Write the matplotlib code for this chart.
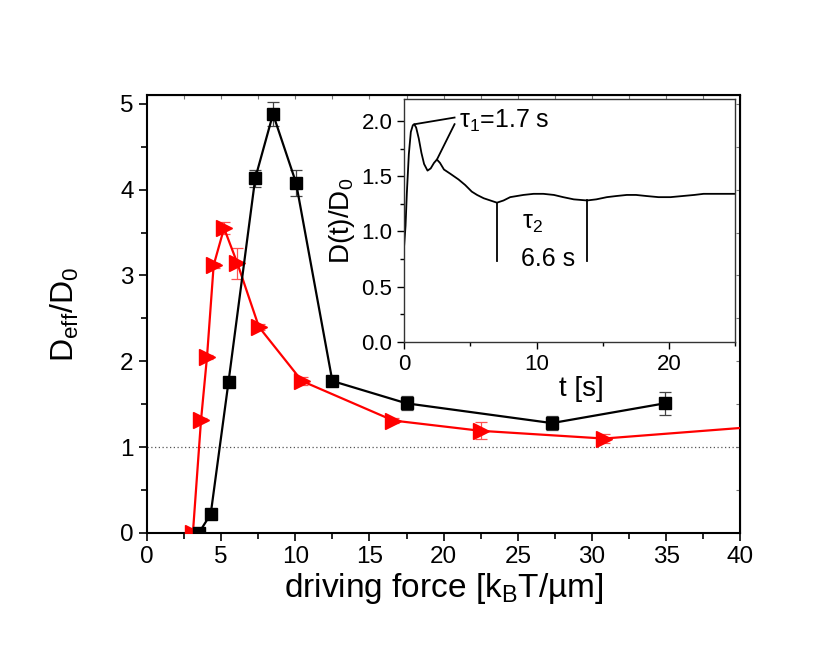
import numpy as np
import matplotlib
matplotlib.use('Agg')
import matplotlib.pyplot as plt
from matplotlib.ticker import MultipleLocator

plt.rcParams['font.family'] = ['Liberation Sans', 'DejaVu Sans']
plt.rcParams['mathtext.default'] = 'regular'

# black squares
black_x = [3.5, 4.3, 5.5, 7.3, 8.5, 10.05, 12.5, 17.5, 27.3, 34.9]
black_y = [0.0, 0.22, 1.76, 4.13, 4.88, 4.08, 1.77, 1.51, 1.28, 1.51]
black_err = [0.0, 0.02, 0.03, 0.1, 0.14, 0.15, 0.03, 0.08, 0.08, 0.13]

# red triangles
red_x = [3.1, 3.65, 4.05, 4.5, 5.2, 6.1, 7.55, 10.45, 16.6, 22.5, 30.8, 45.0]
red_y = [0.0, 1.32, 2.05, 3.12, 3.55, 3.14, 2.4, 1.77, 1.31, 1.19, 1.10, 1.29]
red_err = [0.0, 0.02, 0.02, 0.03, 0.07, 0.18, 0.03, 0.05, 0.03, 0.1, 0.05, 0.0]

# inset: D(t)/D0
t_vals = [0.0, 0.1, 0.2, 0.35, 0.5, 0.65, 0.75, 0.9, 1.1, 1.3, 1.5, 1.76, 2.0,
          2.25, 2.47, 2.7, 3.0, 3.5, 4.1, 4.6, 5.1, 5.5, 6.0, 6.5, 7.0, 7.5,
          8.0, 9.0, 9.77, 10.5, 11.3, 12.0, 12.8, 13.8, 14.5, 15.3, 16.0, 16.8,
          17.5, 18.3, 19.2, 20.1, 21.0, 21.9, 22.6, 23.4, 24.2, 25.0]
d_vals = [0.88, 1.05, 1.35, 1.7, 1.9, 1.96, 1.97, 1.94, 1.84, 1.71, 1.61, 1.55, 1.57,
          1.62, 1.65, 1.62, 1.56, 1.52, 1.47, 1.42, 1.36, 1.33, 1.3, 1.28, 1.26, 1.28,
          1.31, 1.33, 1.34, 1.34, 1.33, 1.31, 1.29, 1.28, 1.29, 1.31, 1.32, 1.33,
          1.33, 1.32, 1.31, 1.31, 1.32, 1.33, 1.34, 1.34, 1.34, 1.34]

fig = plt.figure(figsize=(8.3, 6.7), dpi=100)
ax = fig.add_axes([0.177, 0.2045, 0.715, 0.6535])

ax.axhline(1.0, color='#555555', lw=0.9, ls=(0, (1, 2)), zorder=1)

ax.errorbar(red_x, red_y, yerr=red_err, color='red', lw=1.6, marker='>', ms=11,
            mec='red', mfc='red', ecolor='#ff5050', elinewidth=0.9, capsize=4,
            capthick=0.9, zorder=3)
ax.errorbar(black_x, black_y, yerr=black_err, color='black', lw=1.6, marker='s', ms=9,
            mec='black', mfc='black', ecolor='#444444', elinewidth=0.9, capsize=4,
            capthick=0.9, zorder=4)

ax.set_xlim(0, 40)
ax.set_ylim(0, 5.1)
ax.xaxis.set_major_locator(MultipleLocator(5))
ax.xaxis.set_minor_locator(MultipleLocator(2.5))
ax.yaxis.set_major_locator(MultipleLocator(1))
ax.yaxis.set_minor_locator(MultipleLocator(0.5))
ax.tick_params(which='both', direction='out', width=1.2, labelsize=17.5)
ax.tick_params(which='major', length=6)
ax.tick_params(which='minor', length=4)
for sp in ax.spines.values():
    sp.set_linewidth(1.5)

# faint inward ticks on the top and right frame
top = ax.secondary_xaxis('top')
top.xaxis.set_major_locator(MultipleLocator(2.5))
top.tick_params(direction='in', length=3, width=0.8, color='#777777', labeltop=False)
right = ax.secondary_yaxis('right')
right.yaxis.set_major_locator(MultipleLocator(0.5))
right.tick_params(direction='in', length=3, width=0.8, color='#777777', labelright=False)

ax.set_xlabel('driving force [k$_B$T/µm]', fontsize=24, labelpad=2)
ax.set_ylabel('D$_{eff}$/D$_0$', fontsize=23, labelpad=28)

# inset
ins = fig.add_axes([0.487, 0.4896, 0.399, 0.363])
ins.plot(t_vals, d_vals, color='black', lw=1.3)
ins.set_xlim(0, 25)
ins.set_ylim(0, 2.2)
ins.xaxis.set_major_locator(MultipleLocator(10))
ins.xaxis.set_minor_locator(MultipleLocator(5))
ins.yaxis.set_major_locator(MultipleLocator(0.5))
ins.yaxis.set_minor_locator(MultipleLocator(0.25))
ins.tick_params(which='both', direction='out', width=1.0, labelsize=16)
ins.tick_params(which='major', length=5)
ins.tick_params(which='minor', length=3)
for sp in ins.spines.values():
    sp.set_linewidth(1.0)
    sp.set_color('#333333')
ins.set_xlabel('t [s]', fontsize=20, labelpad=1)
ins.xaxis.set_label_coords(0.535, -0.14)
ins.set_ylabel('D(t)/D$_0$', fontsize=20, labelpad=3)

# annotations in inset
ins.plot([0.8, 3.8], [1.97, 2.03], color='black', lw=1.3)
ins.plot([2.47, 3.8], [1.65, 1.97], color='black', lw=1.3)
ins.text(4.1, 2.0, 'τ$_1$=1.7 s', fontsize=18, va='center', ha='left')
ins.plot([7.0, 7.0], [1.26, 0.73], color='black', lw=1.3)
ins.plot([13.8, 13.8], [1.28, 0.73], color='black', lw=1.3)
ins.text(8.9, 1.08, 'τ$_2$', fontsize=18, va='center', ha='left')
ins.text(8.8, 0.75, '6.6 s', fontsize=18, va='center', ha='left')

fig.savefig('out.png', dpi=100)
